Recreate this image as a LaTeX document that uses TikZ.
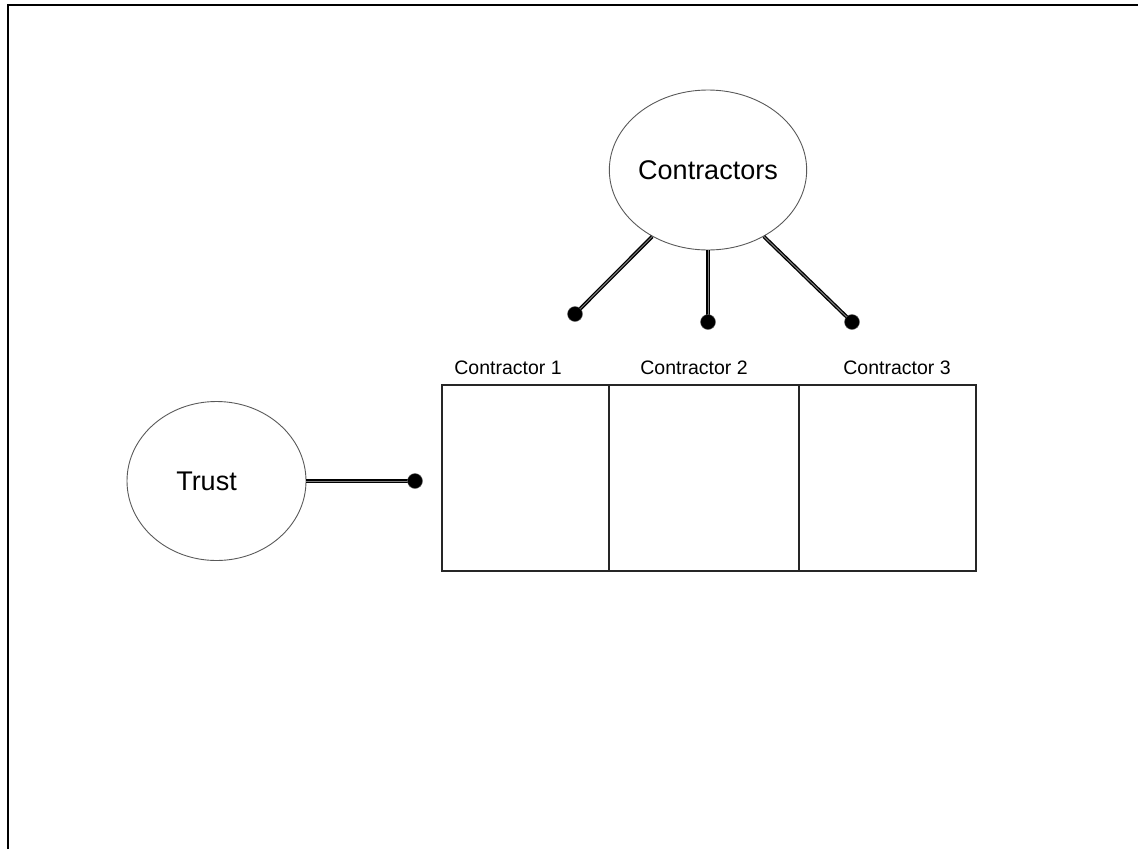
\documentclass[tikz,border=0pt]{standalone}
\usepackage{fontspec}
\setmainfont{Liberation Sans}
\usetikzlibrary{shapes.geometric}
\begin{document}
\begin{tikzpicture}[x=1pt,y=-1pt,
  party/.style={ellipse, draw=black!65, line width=0.9pt, inner sep=0pt,
    font=\fontsize{27}{32}\selectfont},
  cell/.style={rectangle, draw=black!85, line width=1.3pt, inner sep=0pt,
    minimum height=186pt},
  cellname/.style={font=\fontsize{19.5}{23}\selectfont, inner sep=0pt},
  link/.style={draw=black, line width=1.3pt, double=black!50, double distance=1pt},
  knob/.style={circle, fill=black, draw=black!60, line width=0.4pt,
    minimum size=15pt, inner sep=0pt}
]
\useasboundingbox (0,0) rectangle (1138,849);

% page frame (left and top edges)
\draw[line width=2pt] (7.7,849) -- (7.7,5) -- (1138,5);

% parties
\node[party, minimum width=178pt, minimum height=160pt] (cs) at (708,170) {Contractors};
\node[party, minimum width=179pt, minimum height=159pt] (tr) at (216.5,481) {Trust\hspace*{20pt}};

% the three contractor cells
\node[cell, minimum width=167pt] (c1) at (525.5,478) {};
\node[cell, minimum width=190pt] (c2) at (704,478) {};
\node[cell, minimum width=177pt] (c3) at (887.5,478) {};

\node[cellname] (l1) at (508,368) {Contractor 1};
\node[cellname] (l2) at (694,368) {Contractor 2};
\node[cellname] (l3) at (897,368) {Contractor 3};

% connector ends
\coordinate (k1) at (575,314);
\coordinate (k2) at (708,322);
\coordinate (k3) at (852,322);
\coordinate (k4) at (415,481);

\draw[link] (cs.-130) -- (k1);
\draw[link] (cs.south) -- (k2);
\draw[link] (cs.-50) -- (k3);
\draw[link] (tr.east) -- (k4);

\node[knob] (n1) at (k1) {};
\node[knob] (n2) at (k2) {};
\node[knob] (n3) at (k3) {};
\node[knob] (n4) at (k4) {};
\end{tikzpicture}
\end{document}
